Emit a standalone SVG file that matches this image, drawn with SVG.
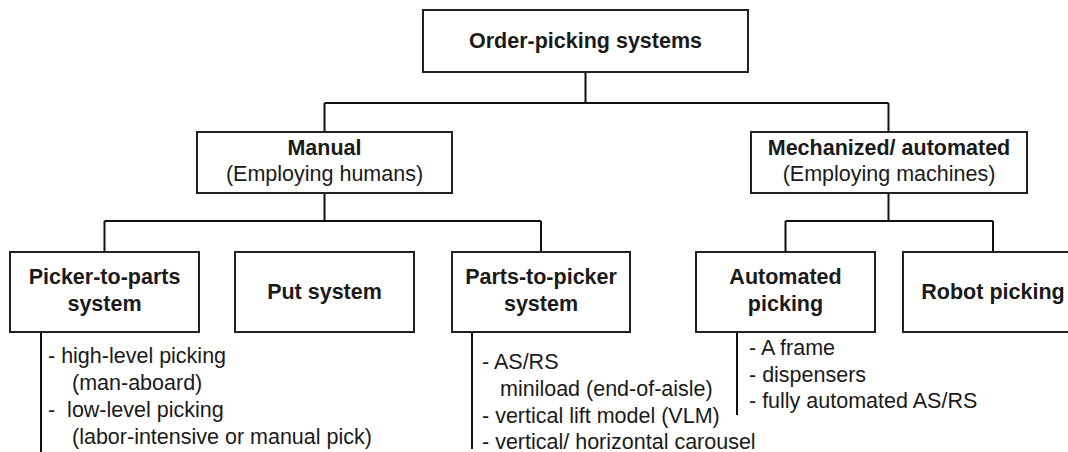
<svg xmlns="http://www.w3.org/2000/svg" width="1068" height="452" viewBox="0 0 1068 452">
<style>
.box{fill:#fff;stroke:#222;stroke-width:2}
.ln{fill:none;stroke:#111;stroke-width:2}
text{font-family:"Liberation Sans",Arial,sans-serif;font-size:21.5px;fill:#1a1a1a}
.b{font-weight:bold;text-anchor:middle}
.c{text-anchor:middle}
.l{white-space:pre}
</style>
<rect width="1068" height="452" fill="#fff"/>
<g id="connectors">
<path class="ln" d="M585.5 72V103M324.5 103H888.5M324.5 103V132M888.5 103V132"/>
<path class="ln" d="M324.5 193V221M104.5 221H541M104.5 221V252M541 221V252"/>
<path class="ln" d="M888.5 193V221M785.5 221H993M785.5 221V252M993 221V252"/>
<path class="ln" d="M41 332V452M472 332V449M737 332V415"/>
</g>
<g id="n-root"><rect class="box" x="423" y="10" width="325" height="62"/><text class="b" x="585.5" y="48">Order-picking systems</text></g>
<g id="n-manual"><rect class="box" x="197" y="132" width="255" height="61"/><text class="b" x="324.5" y="155">Manual</text><text class="c" x="324.5" y="181">(Employing humans)</text></g>
<g id="n-mech"><rect class="box" x="751" y="132" width="276" height="61"/><text class="b" x="889" y="155">Mechanized/ automated</text><text class="c" x="889" y="181">(Employing machines)</text></g>
<g id="n-picker"><rect class="box" x="10" y="252" width="189" height="80"/><text class="b" x="104.5" y="284">Picker-to-parts</text><text class="b" x="104.5" y="311">system</text></g>
<g id="n-put"><rect class="box" x="235" y="252" width="179" height="80"/><text class="b" x="324.5" y="299">Put system</text></g>
<g id="n-parts"><rect class="box" x="452" y="252" width="178" height="80"/><text class="b" x="541" y="284">Parts-to-picker</text><text class="b" x="541" y="311">system</text></g>
<g id="n-auto"><rect class="box" x="696" y="252" width="179" height="80"/><text class="b" x="785.5" y="284">Automated</text><text class="b" x="785.5" y="311">picking</text></g>
<g id="n-robot"><rect class="box" x="903" y="252" width="180" height="80"/><text class="b" x="993" y="299">Robot picking</text></g>
<g id="list-picker">
<text class="l" x="48" y="363">- high-level picking</text>
<text class="l" x="72" y="390">(man-aboard)</text>
<text class="l" x="48" y="417">-  low-level picking</text>
<text class="l" x="72" y="444">(labor-intensive or manual pick)</text>
</g>
<g id="list-parts">
<text class="l" x="482" y="369">- AS/RS</text>
<text class="l" x="500" y="396">miniload (end-of-aisle)</text>
<text class="l" x="482" y="423">- vertical lift model (VLM)</text>
<text class="l" x="482" y="449">- vertical/ horizontal carousel</text>
</g>
<g id="list-auto">
<text class="l" x="749" y="355">- A frame</text>
<text class="l" x="749" y="382">- dispensers</text>
<text class="l" x="749" y="408">- fully automated AS/RS</text>
</g>
</svg>
